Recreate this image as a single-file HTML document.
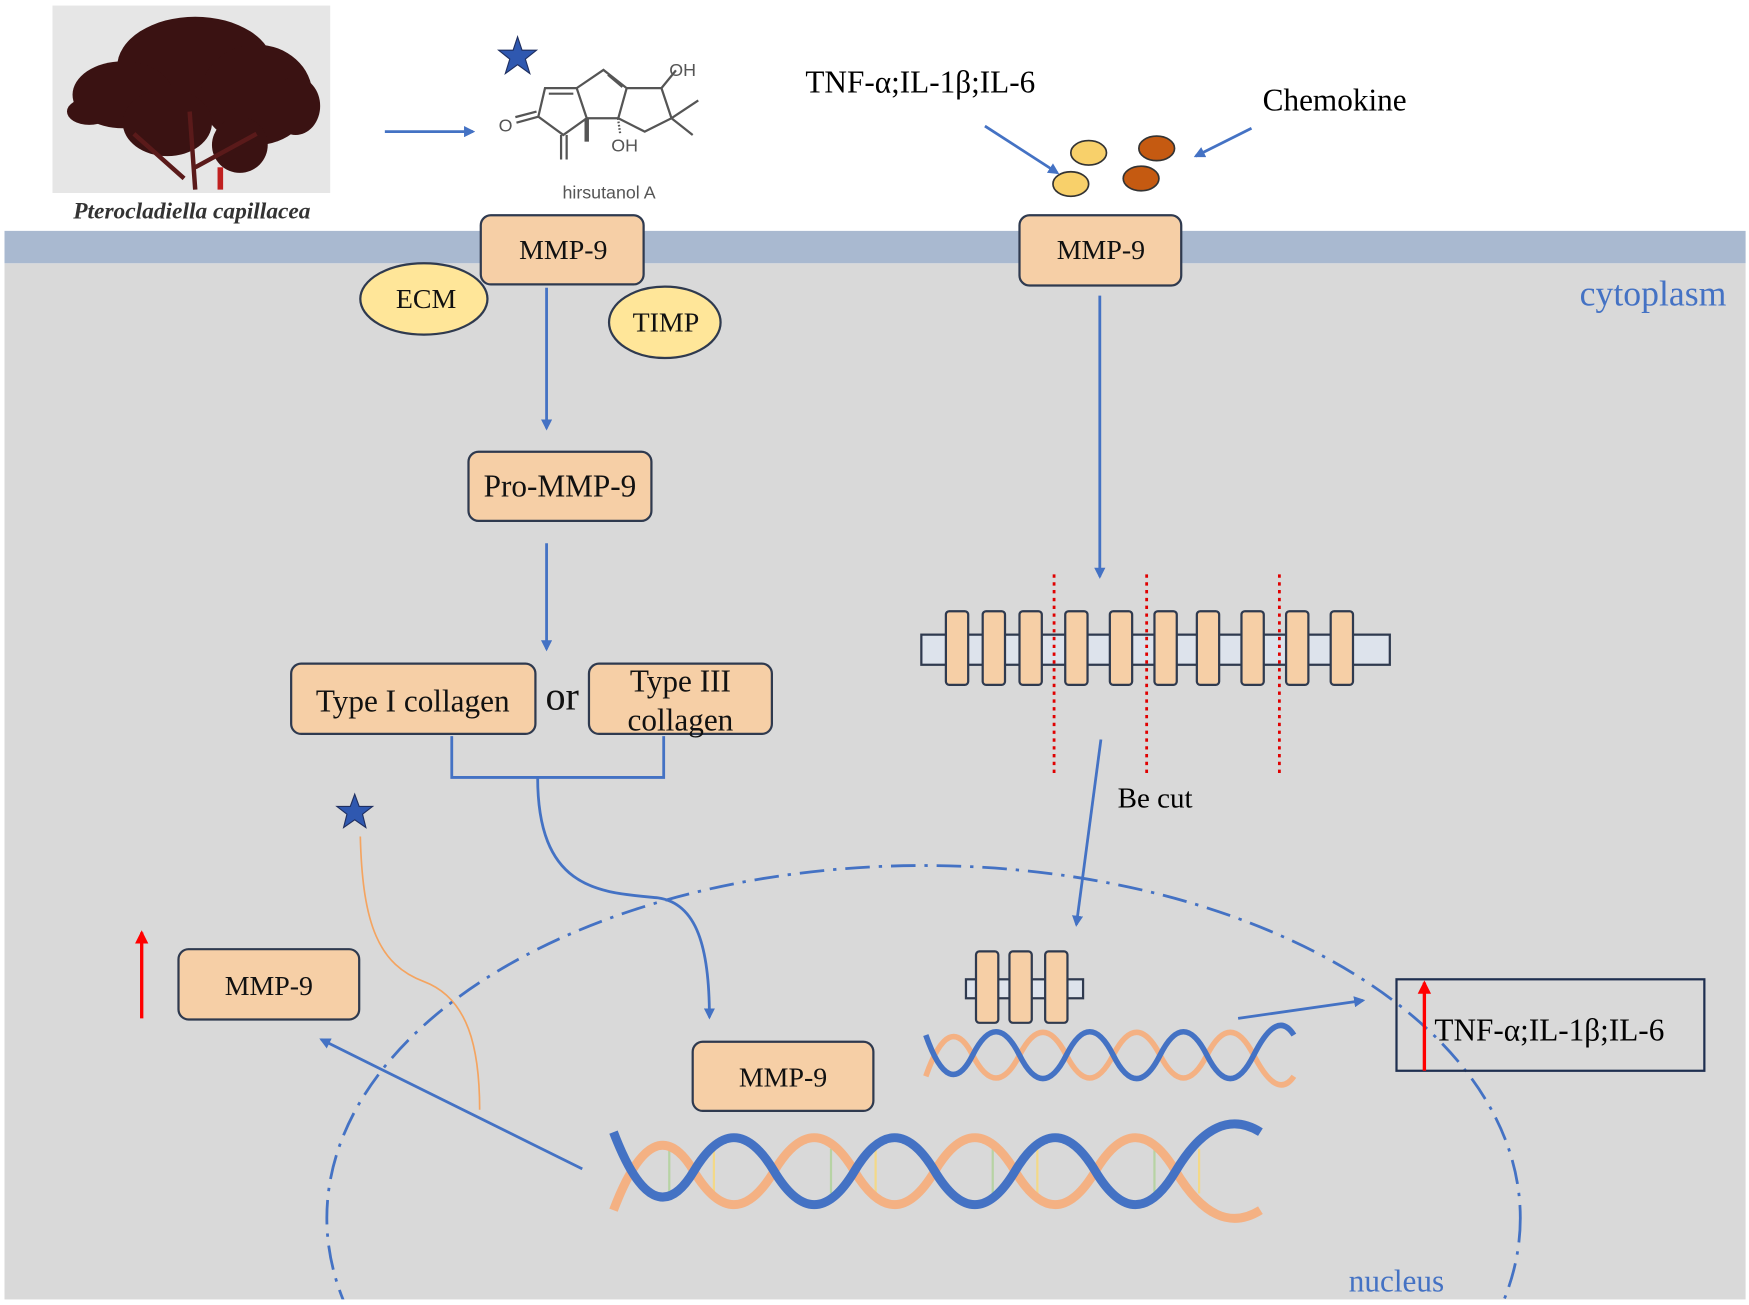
<!DOCTYPE html>
<html><head><meta charset="utf-8"><style>
html,body{margin:0;padding:0;background:#fff;width:1749px;height:1305px;overflow:hidden}
svg{display:block}
.s{font-family:"Liberation Serif",serif}
</style></head><body>
<svg width="1749" height="1305" viewBox="0 0 1568 1170" xmlns="http://www.w3.org/2000/svg">
<defs>
<marker id="ab" markerWidth="10" markerHeight="10" refX="8" refY="5" orient="auto" markerUnits="userSpaceOnUse"><path d="M0,0 L10,5 L0,10 z" fill="#4472c4"/></marker>
<marker id="ar" markerWidth="12" markerHeight="14" refX="10" refY="6" orient="auto" markerUnits="userSpaceOnUse"><path d="M0,0 L12,6 L0,12 z" fill="#ff0000"/></marker>
<clipPath id="cl"><rect x="4" y="236" width="1561" height="929"/></clipPath>
</defs>
<rect width="1568" height="1170" fill="#fff"/>
<rect x="4" y="236" width="1561" height="929" fill="#d9d9d9"/>
<rect x="4" y="207" width="1561" height="29" fill="#a9b9d0"/>
<rect x="47" y="5" width="249" height="168" fill="#e6e6e6"/>
<g fill="#3a1212">
<ellipse cx="175" cy="60" rx="70" ry="45"/>
<ellipse cx="230" cy="85" rx="50" ry="45"/>
<ellipse cx="110" cy="85" rx="45" ry="30"/>
<ellipse cx="265" cy="95" rx="22" ry="26"/>
<ellipse cx="150" cy="110" rx="40" ry="30"/>
<ellipse cx="80" cy="100" rx="20" ry="12"/>
<ellipse cx="215" cy="130" rx="25" ry="25"/>
</g>
<path d="M175 170 L170 100 M165 160 L120 120 M175 150 L230 120" stroke="#5a1a1a" stroke-width="4"/>
<rect x="195" y="150" width="5" height="20" fill="#c02020"/>
<text x="172" y="196" class="s" font-size="21" font-style="italic" font-weight="bold" fill="#333" text-anchor="middle">Pterocladiella capillacea</text>
<line x1="345" y1="118" x2="424" y2="118" stroke="#4472c4" stroke-width="2.5" marker-end="url(#ab)"/>
<polygon points="464,33 468,45 481,45 471,53 475,66 464,58 453,66 457,53 447,45 460,45" fill="#2f58b0" stroke="#1f2f60" stroke-width="1"/>
<g stroke="#555" stroke-width="2" fill="none">
<path d="M482.6,104.6 L488.6,79 L517,79 L526,106 L505,121 Z"/>
<line x1="492" y1="84" x2="514" y2="84"/>
<path d="M517,79 L541,62.7 L561.8,79 L554.3,106 L526,106"/>
<line x1="545" y1="67" x2="558" y2="78"/>
<path d="M561.8,79 L593,79 L602,106 L578,118 L554.3,106"/>
<line x1="593" y1="79" x2="606" y2="63"/>
<line x1="602" y1="106" x2="626" y2="90"/>
<line x1="602" y1="106" x2="621" y2="121"/>
<line x1="482.6" y1="104.6" x2="463" y2="110"/><line x1="481" y1="100" x2="462" y2="105"/>
<line x1="503" y1="121" x2="503" y2="143"/><line x1="508" y1="121" x2="508" y2="143"/>
<line x1="526" y1="106" x2="526" y2="127" stroke-width="4"/>
<line x1="554" y1="106" x2="556" y2="120" stroke-dasharray="1.5 1.5"/>
</g>
<g font-family="Liberation Sans,sans-serif" fill="#555" font-size="16">
<text x="447" y="118">O</text><text x="600" y="68">OH</text><text x="548" y="136">OH</text>
<text x="546" y="178" text-anchor="middle" font-size="16">hirsutanol A</text>
</g>
<text x="722" y="83" class="s" font-size="28">TNF-α;IL-1β;IL-6</text>
<text x="1132" y="99" class="s" font-size="28">Chemokine</text>
<line x1="883" y1="113" x2="948" y2="155" stroke="#4472c4" stroke-width="2.5" marker-end="url(#ab)"/>
<line x1="1122" y1="115" x2="1072" y2="140" stroke="#4472c4" stroke-width="2.5" marker-end="url(#ab)"/>
<g stroke="#333" stroke-width="1.5">
<ellipse cx="976" cy="137" rx="16" ry="11" fill="#f8d06a"/>
<ellipse cx="960" cy="165" rx="16" ry="11" fill="#f8d06a"/>
<ellipse cx="1037" cy="133" rx="16" ry="11" fill="#c55a11"/>
<ellipse cx="1023" cy="160" rx="16" ry="11" fill="#c55a11"/>
</g>
<g fill="#f6cfa6" stroke="#2f3a4f" stroke-width="2">
<rect x="431" y="193" width="146" height="62" rx="9"/>
<rect x="914" y="193" width="145" height="63" rx="9"/>
<rect x="420" y="405" width="164" height="62" rx="9"/>
<rect x="261" y="595" width="219" height="63" rx="9"/>
<rect x="528" y="595" width="164" height="63" rx="9"/>
<rect x="160" y="851" width="162" height="63" rx="9"/>
<rect x="621" y="934" width="162" height="62" rx="9"/>
</g>
<g fill="#ffe699" stroke="#2f3a4f" stroke-width="2">
<ellipse cx="380" cy="268" rx="57" ry="32"/>
<ellipse cx="596" cy="289" rx="50" ry="32"/>
</g>
<g class="s" font-size="25" text-anchor="middle" fill="#111">
<text x="505" y="232">MMP-9</text>
<text x="987" y="232">MMP-9</text>
<text x="382" y="276">ECM</text>
<text x="597" y="297">TIMP</text>
<text x="502" y="445" font-size="28">Pro-MMP-9</text>
<text x="370" y="638" font-size="28">Type I collagen</text>
<text x="504" y="636" font-size="36">or</text>
<text x="610" y="620" font-size="28">Type III</text>
<text x="610" y="655" font-size="28">collagen</text>
<text x="241" y="892">MMP-9</text>
<text x="702" y="974">MMP-9</text>
</g>
<text x="1482" y="274" class="s" font-size="32" fill="#4472c4" text-anchor="middle">cytoplasm</text>
<g stroke="#4472c4" stroke-width="2.5" fill="none">
<line x1="490" y1="258" x2="490" y2="384" marker-end="url(#ab)"/>
<line x1="490" y1="487" x2="490" y2="582" marker-end="url(#ab)"/>
<path d="M405,660 L405,697 L595,697 L595,660"/>
<path d="M482,697 C482,800 540,800 590,805 C625,810 636,850 636,912" marker-end="url(#ab)"/>
<line x1="522" y1="1048" x2="288" y2="932" marker-end="url(#ab)"/>
<line x1="986" y1="265" x2="986" y2="517" marker-end="url(#ab)"/>
<line x1="987" y1="663" x2="965" y2="829" marker-end="url(#ab)"/>
<line x1="1110" y1="913" x2="1222" y2="897" marker-end="url(#ab)"/>
</g>
<polygon points="318,712 322,723 334,723 325,730 328,742 318,735 308,742 311,730 302,723 314,723" fill="#2f58b0" stroke="#1f2f60" stroke-width="1"/>
<path d="M323,750 C325,830 340,865 380,880 C420,895 430,940 430,995" stroke="#f4a460" stroke-width="1.5" fill="none"/>
<line x1="127" y1="913" x2="127" y2="836" stroke="#ff0000" stroke-width="3" marker-end="url(#ar)"/>
<ellipse cx="828" cy="1092" rx="535" ry="316" fill="none" stroke="#4472c4" stroke-width="2.5" stroke-dasharray="22 8 3 8" clip-path="url(#cl)"/>
<text x="1252" y="1158" class="s" font-size="28" fill="#4472c4" text-anchor="middle">nucleus</text>
<rect x="826" y="569" width="420" height="27" fill="#dde3ec" stroke="#2f3a4f" stroke-width="2"/>
<g fill="#f6cfa6" stroke="#2f3a4f" stroke-width="2">
<rect x="848" y="548" width="20" height="66" rx="3"/><rect x="881" y="548" width="20" height="66" rx="3"/>
<rect x="914" y="548" width="20" height="66" rx="3"/><rect x="955" y="548" width="20" height="66" rx="3"/>
<rect x="995" y="548" width="20" height="66" rx="3"/><rect x="1035" y="548" width="20" height="66" rx="3"/>
<rect x="1073" y="548" width="20" height="66" rx="3"/><rect x="1113" y="548" width="20" height="66" rx="3"/>
<rect x="1153" y="548" width="20" height="66" rx="3"/><rect x="1193" y="548" width="20" height="66" rx="3"/>
</g>
<g stroke="#e00000" stroke-width="2.5" stroke-dasharray="3 4">
<line x1="945" y1="515" x2="945" y2="695"/><line x1="1028" y1="515" x2="1028" y2="695"/><line x1="1147" y1="515" x2="1147" y2="695"/>
</g>
<text x="1002" y="724" class="s" font-size="26">Be cut</text>
<rect x="866" y="878" width="105" height="17" fill="#dde3ec" stroke="#2f3a4f" stroke-width="2"/>
<g fill="#f6cfa6" stroke="#2f3a4f" stroke-width="2">
<rect x="875" y="853" width="20" height="64" rx="3"/><rect x="905" y="853" width="20" height="64" rx="3"/><rect x="937" y="853" width="20" height="64" rx="3"/>
</g>
<g fill="none" stroke-width="5">
<path d="M830,965 Q851,905 872,946 T914,946 T956,946 T998,946 T1040,946 T1082,946 T1124,946 T1160,965" stroke="#f4b183"/>
<path d="M830,928 Q851,988 872,946 T914,946 T956,946 T998,946 T1040,946 T1082,946 T1124,946 T1160,928" stroke="#4472c4"/>
</g>
<g stroke-width="2" opacity="0.7">
<line x1="600" y1="1030" x2="600" y2="1070" stroke="#a9d18e"/><line x1="640" y1="1030" x2="640" y2="1070" stroke="#ffd966"/>
<line x1="745" y1="1030" x2="745" y2="1070" stroke="#a9d18e"/><line x1="785" y1="1030" x2="785" y2="1070" stroke="#ffd966"/>
<line x1="890" y1="1030" x2="890" y2="1070" stroke="#a9d18e"/><line x1="930" y1="1030" x2="930" y2="1070" stroke="#ffd966"/>
<line x1="1035" y1="1030" x2="1035" y2="1070" stroke="#a9d18e"/><line x1="1075" y1="1030" x2="1075" y2="1070" stroke="#ffd966"/>
</g>
<g fill="none" stroke-width="8">
<path d="M550,1085 Q586,990 622,1050 T694,1050 T766,1050 T838,1050 T910,1050 T982,1050 T1054,1050 T1130,1085" stroke="#f4b183"/>
<path d="M550,1015 Q586,1110 622,1050 T694,1050 T766,1050 T838,1050 T910,1050 T982,1050 T1054,1050 T1130,1015" stroke="#4472c4"/>
</g>
<rect x="1252" y="878" width="276" height="82" fill="none" stroke="#1f2f50" stroke-width="2"/>
<text x="1286" y="933" class="s" font-size="28">TNF-α;IL-1β;IL-6</text>
<line x1="1277" y1="960" x2="1277" y2="881" stroke="#ff0000" stroke-width="3" marker-end="url(#ar)"/>
</svg>
</body></html>
